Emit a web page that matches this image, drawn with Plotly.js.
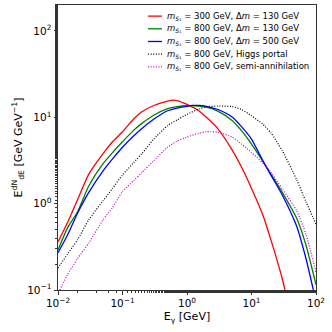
<!DOCTYPE html>
<html>
<head>
<meta charset="utf-8">
<script src="https://cdn.plot.ly/plotly-3.0.1.min.js"></script>
<style>
  body { margin: 0; background: #fff; }
  #chart { width: 332px; height: 332px; }
</style>
</head>
<body>
<div id="chart"></div>
<script>
// photon energy grid [GeV]
const eGrid = [0.01, 0.014, 0.02, 0.03, 0.05, 0.07, 0.1, 0.15, 0.2, 0.3, 0.5, 0.7, 1, 1.5, 2, 3, 5, 7, 10, 15, 20, 30, 50, 70, 100];

const eRed = [0.01, 0.014, 0.02, 0.03, 0.05, 0.07, 0.1, 0.15, 0.2, 0.3, 0.5, 0.6, 0.7, 1, 1.5, 2, 3, 5, 7, 10, 15, 20, 30, 33];
const yRed = [0.36, 0.6, 1.1, 2.2, 3.8, 5.2, 6.8, 9.6, 11.6, 13.6, 15.4, 15.8, 15.6, 14.1, 12.0, 10.0, 7.4, 4.2, 2.65, 1.5, 0.74, 0.38, 0.135, 0.1];

const yGreen = [0.29, 0.52, 0.8, 1.6, 2.9, 3.9, 5.2, 7.1, 8.5, 10.5, 12.6, 13.3, 13.6, 13.5, 13.1, 11.8, 9.2, 7.0, 4.9, 3.1, 2.2, 1.35, 0.68, 0.33, 0.115];

const eBlue = [0.01, 0.014, 0.02, 0.03, 0.05, 0.07, 0.1, 0.15, 0.2, 0.3, 0.5, 0.7, 1, 1.2, 1.5, 2, 3, 5, 7, 10, 15, 20, 30, 50, 70, 91];
const yBlue = [0.27, 0.43, 0.77, 1.35, 2.4, 3.3, 4.5, 6.1, 7.4, 9.4, 11.9, 12.8, 13.4, 13.7, 13.7, 13.4, 12.3, 10.1, 7.8, 5.6, 3.13, 2.14, 1.26, 0.55, 0.23, 0.1];

const yHiggs = [0.18, 0.26, 0.38, 0.65, 1.08, 1.5, 2.15, 3.0, 3.8, 5.5, 8.0, 9.3, 10.8, 12.4, 13.2, 13.5, 13.3, 12.3, 10.4, 8.3, 6.6, 4.1, 1.9, 1.05, 0.58];

const eSemi = [0.0107, 0.014, 0.02, 0.03, 0.05, 0.07, 0.1, 0.15, 0.2, 0.3, 0.5, 0.7, 1, 1.5, 2, 3, 5, 7, 10, 15, 20, 30, 50, 70, 100];
const ySemi = [0.1, 0.15, 0.23, 0.35, 0.65, 0.9, 1.38, 1.85, 2.3, 3.1, 4.5, 5.3, 5.9, 6.5, 6.8, 6.7, 5.9, 4.9, 3.9, 2.95, 2.3, 1.48, 0.83, 0.44, 0.16];

const mS = "<i>m</i><sub><i>S</i>₁</sub>";
const labels = [
  mS + " = 300 GeV, Δ<i>m</i> = 130 GeV",
  mS + " = 800 GeV, Δ<i>m</i> = 130 GeV",
  mS + " = 800 GeV, Δ<i>m</i> = 500 GeV",
  mS + " = 800 GeV, Higgs portal",
  mS + " = 800 GeV, semi-annihilation"
];
const colors = ['#ff0000', '#008000', '#0000ff', '#000000', '#c000c0'];
const dashes = ['solid', 'solid', 'solid', '1px,1.6px', '1px,1.6px'];

const xs = [eRed, eGrid, eBlue, eGrid, eSemi];
const ys = [yRed, yGreen, yBlue, yHiggs, ySemi];

const traces = ys.map((y, i) => ({
  type: 'scatter',
  mode: 'lines',
  x: xs[i],
  y: y,
  name: labels[i],
  showlegend: false,
  line: { color: colors[i], width: i < 3 ? 1.3 : 1.2, dash: dashes[i], shape: 'spline', smoothing: 0.6 }
}));

// legend drawn by hand so the rows can sit as tight as the original
const legendTop = 0.961, legendStep = 0.0445;
const shapes = labels.map((_, i) => ({
  type: 'line', xref: 'paper', yref: 'paper',
  x0: 0.349, x1: 0.403,
  y0: legendTop - i * legendStep, y1: legendTop - i * legendStep,
  line: { color: colors[i], width: i < 3 ? 1.3 : 1.2, dash: dashes[i] }
}));
const annotations = labels.map((txt, i) => ({
  xref: 'paper', yref: 'paper',
  x: 0.415, y: legendTop - i * legendStep,
  xanchor: 'left', yanchor: 'middle',
  text: txt, showarrow: false,
  font: { size: 8.5, color: '#000' }
}));

const decades = [0.01, 0.1, 1, 10, 100];
const decadeText = ['10<sup>−2</sup>', '10<sup>−1</sup>', '10<sup>0</sup>', '10<sup>1</sup>', '10<sup>2</sup>'];
const yDecades = [0.1, 1, 10, 100];
const yDecadeText = ['10<sup>−1</sup>', '10<sup>0</sup>', '10<sup>1</sup>', '10<sup>2</sup>'];

const axisStyle = {
  type: 'log',
  showgrid: false,
  zeroline: false,
  showline: true,
  mirror: true,
  linecolor: '#333',
  linewidth: 1,
  ticks: 'outside',
  ticklen: 3.5,
  tickcolor: '#333',
  tickfont: { size: 10.5, color: '#000' },
  minor: { ticks: 'outside', ticklen: 2, tickcolor: '#333', showgrid: false }
};

const layout = {
  width: 332,
  height: 332,
  margin: { l: 58, r: 16, t: 5, b: 42 },
  paper_bgcolor: '#fff',
  plot_bgcolor: '#fff',
  font: { family: 'DejaVu Sans', color: '#000' },
  showlegend: false,
  shapes: shapes,
  annotations: annotations,
  xaxis: Object.assign({}, axisStyle, {
    range: [-2, 2],
    tickvals: decades,
    ticktext: decadeText,
    title: { text: 'E<sub>γ</sub> [GeV]', font: { size: 11 }, standoff: 4 }
  }),
  yaxis: Object.assign({}, axisStyle, {
    range: [-1, 2.3],
    tickvals: yDecades,
    ticktext: yDecadeText,
    title: { text: 'E<sup>dN</sup><sub>dE</sub> [GeV GeV<sup>−1</sup>]', font: { size: 11 }, standoff: 2 }
  })
};

Plotly.newPlot('chart', traces, layout, { displayModeBar: false, staticPlot: true });
</script>
</body>
</html>
